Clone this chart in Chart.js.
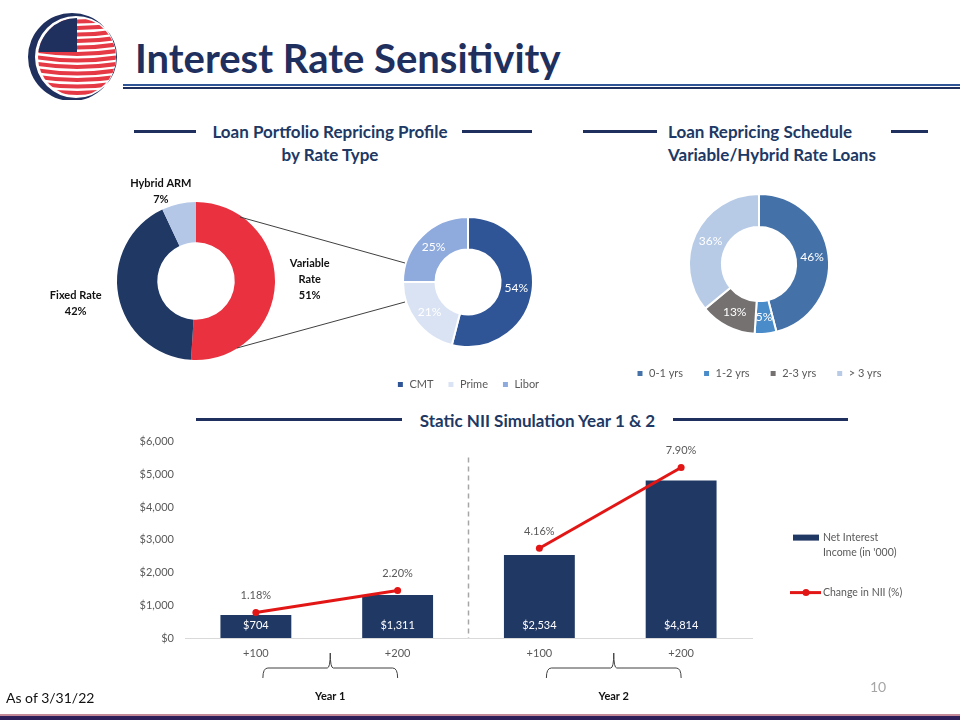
<!DOCTYPE html>
<html>
<head>
<meta charset="utf-8">
<script src="https://cdn.jsdelivr.net/npm/chart.js@4.4.1/dist/chart.umd.min.js"></script>
<style>
  body { margin: 0; width: 960px; height: 720px; position: relative; overflow: hidden; background: #fff; font-family: Lato, sans-serif; }
  .abs { position: absolute; }
  .title { left: 135px; top: 34px; font-size: 40px; font-weight: 700; color: #1F2F5E; line-height: 48px; white-space: nowrap; }
  .head { font-size: 17px; font-weight: 700; color: #203864; line-height: 23px; white-space: nowrap; }
  .rule { height: 3px; background: #1F2F5E; }
</style>
</head>
<body>

<canvas id="logo" class="abs" style="left:20px;top:10px" width="110" height="90"></canvas>
<div class="abs title">Interest Rate Sensitivity</div>
<div class="abs" style="left:123px;top:84px;width:837px;height:2px;background:#2F5597"></div>
<div class="abs" style="left:123px;top:87px;width:837px;height:2px;background:#1F2F5E"></div>

<!-- section headers -->
<div class="abs rule" style="left:134px;top:130px;width:62px"></div>
<div class="abs rule" style="left:462px;top:130px;width:70px"></div>
<div class="abs head" style="left:195px;top:120px;width:270px;text-align:center">Loan Portfolio Repricing Profile<br>by Rate Type</div>

<div class="abs rule" style="left:583px;top:130px;width:74px"></div>
<div class="abs rule" style="left:891px;top:130px;width:37px"></div>
<div class="abs head" style="left:668px;top:120px">Loan Repricing Schedule<br>Variable/Hybrid Rate Loans</div>

<div class="abs rule" style="left:196px;top:418px;width:206px"></div>
<div class="abs rule" style="left:673px;top:418px;width:175px"></div>
<div class="abs head" style="left:402px;top:409px;width:271px;text-align:center">Static NII Simulation Year 1 &amp; 2</div>

<!-- charts -->
<canvas id="rateTypeChart" class="abs" style="left:36px;top:171px" width="320" height="220"></canvas>
<canvas id="variableChart" class="abs" style="left:373px;top:198px" width="190" height="202"></canvas>
<canvas id="repricingChart" class="abs" style="left:599px;top:175px" width="320" height="214"></canvas>
<canvas id="niiChart" class="abs" style="left:100px;top:424px" width="850" height="286"></canvas>

<!-- connector lines between the two left donuts -->
<svg class="abs" style="left:0;top:0" width="960" height="720">
  <line x1="240" y1="217" x2="405" y2="263" stroke="#404040" stroke-width="1"/>
  <line x1="237" y1="348" x2="405" y2="302" stroke="#404040" stroke-width="1"/>
</svg>

<div class="abs" style="left:870px;top:678px;font-size:14px;color:#A6A6A6">10</div>
<div class="abs" style="left:6px;top:689px;font-size:14px;color:#111">As of 3/31/22</div>
<div class="abs" style="left:0;top:714px;width:960px;height:2px;background:#C48A97"></div>
<div class="abs" style="left:0;top:716px;width:960px;height:4px;background:#2E1E5A"></div>

<script>
// Rate type split of the loan portfolio
const rateTypes = ['Variable Rate', 'Fixed Rate', 'Hybrid ARM'];
const rateTypeLines = [['Variable', 'Rate'], ['Fixed Rate'], ['Hybrid ARM']];
const rateTypeShare = [51, 42, 7];

// Variable rate loans by index
const variableIndex = ['CMT', 'Prime', 'Libor'];
const variableShare = [54, 21, 25];

// Repricing schedule (variable / hybrid)
const repricingBuckets = ['0-1 yrs', '1-2 yrs', '2-3 yrs', '> 3 yrs'];
const repricingShare = [46, 5, 13, 36];

// Static NII simulation
const shockLabels = ['+100', '+200', '+100', '+200'];
const niiValues = [704, 1311, 2534, 4814];
const niiChange = [1.18, 2.20, 4.16, 7.90];
const yearGroups = ['Year 1', 'Year 2'];
const yearMembers = [[0, 1], [2, 3]];
const seriesLines = [['Net Interest', "Income (in '000)"], ['Change in NII (%)']];

const FONT = 'Lato';
const NAVY = '#203864';
const RED = '#E31616';
const GREY = '#595959';

Chart.defaults.font.family = FONT;
Chart.defaults.animation = false;
Chart.defaults.plugins.tooltip.enabled = false;

const money = v => '$' + v.toLocaleString('en-US');

// logo (plain canvas, just decoration)
function drawLogo() {
  const g = document.getElementById('logo').getContext('2d');
  g.fillStyle = '#1F2F5E';
  g.beginPath();
  g.arc(52, 47, 44, 0, Math.PI * 2);
  g.arc(56, 47, 41, 0, Math.PI * 2, true);
  g.fill('evenodd');
  g.save();
  g.beginPath();
  g.arc(57, 47, 39, 0, Math.PI * 2);
  g.clip();
  g.fillStyle = '#fff';
  g.fillRect(0, 0, 110, 90);
  g.strokeStyle = '#E53A46';
  g.lineWidth = 4;
  for (let y = 10; y < 92; y += 6.5) {
    g.beginPath();
    g.moveTo(15, y - 2);
    g.quadraticCurveTo(57, y + 5, 100, y - 2);
    g.stroke();
  }
  g.fillStyle = '#1F2F5E';
  g.fillRect(15, 5, 42, 37);
  g.restore();
}
drawLogo();

// labels outside the left donut
const outsideLabels = {
  id: 'outsideLabels',
  afterDatasetsDraw(chart, args, opts) {
    const ctx = chart.ctx;
    ctx.save();
    ctx.font = 'bold 11px ' + FONT;
    ctx.fillStyle = '#111';
    ctx.textAlign = 'center';
    ctx.textBaseline = 'middle';
    chart.getDatasetMeta(0).data.forEach((arc, i) => {
      const p = arc.getProps(['x', 'y', 'startAngle', 'endAngle', 'outerRadius'], true);
      const mid = (p.startAngle + p.endAngle) / 2;
      const r = p.outerRadius * opts.reach[i];
      const cx = p.x + Math.cos(mid) * r + opts.nudge[i][0];
      const cy = p.y + Math.sin(mid) * r + opts.nudge[i][1];
      const lines = rateTypeLines[i].concat(rateTypeShare[i] + '%');
      lines.forEach((t, k) => ctx.fillText(t, cx, cy + (k - (lines.length - 1) / 2) * 16));
    });
    ctx.restore();
  }
};

// percent labels in the middle of the ring
const ringLabels = {
  id: 'ringLabels',
  afterDatasetsDraw(chart, args, opts) {
    const ctx = chart.ctx;
    const values = chart.data.datasets[0].data;
    ctx.save();
    ctx.font = opts.size + 'px ' + FONT;
    ctx.fillStyle = '#fff';
    ctx.textAlign = 'center';
    ctx.textBaseline = 'middle';
    chart.getDatasetMeta(0).data.forEach((arc, i) => {
      const p = arc.getProps(['x', 'y', 'startAngle', 'endAngle', 'innerRadius', 'outerRadius'], true);
      const mid = (p.startAngle + p.endAngle) / 2;
      const r = (p.innerRadius + p.outerRadius) / 2;
      ctx.fillText(values[i] + '%', p.x + Math.cos(mid) * r, p.y + Math.sin(mid) * r);
    });
    ctx.restore();
  }
};

new Chart(document.getElementById('rateTypeChart'), {
  type: 'doughnut',
  data: {
    labels: rateTypes,
    datasets: [{
      data: rateTypeShare,
      backgroundColor: ['#E9313F', '#1F3864', '#B4C7E7'],
      borderWidth: 0
    }]
  },
  options: {
    responsive: false,
    radius: 79,
    cutout: '49%',
    plugins: {
      legend: { display: false },
      outsideLabels: {
        reach: [1.44, 1.55, 1.17],
        nudge: [[0, -5], [0, 0], [-15, 1]]
      }
    }
  },
  plugins: [outsideLabels]
});

const donutLegend = (pad) => ({
  position: 'bottom',
  labels: { boxWidth: 7, boxHeight: 7, padding: pad, color: GREY, font: { size: 11 } }
});

new Chart(document.getElementById('variableChart'), {
  type: 'doughnut',
  data: {
    labels: variableIndex,
    datasets: [{
      data: variableShare,
      backgroundColor: ['#2F5597', '#DAE3F3', '#8FAADC'],
      borderColor: '#fff',
      borderWidth: 2
    }]
  },
  options: {
    responsive: false,
    radius: 65,
    cutout: '50%',
    layout: { padding: { top: 1 } },
    plugins: {
      legend: donutLegend(14),
      ringLabels: { size: 12 }
    }
  },
  plugins: [ringLabels]
});

new Chart(document.getElementById('repricingChart'), {
  type: 'doughnut',
  data: {
    labels: repricingBuckets,
    datasets: [{
      data: repricingShare,
      backgroundColor: ['#4472A8', '#4A8CC9', '#767171', '#B7CBE6'],
      borderColor: '#fff',
      borderWidth: 2
    }]
  },
  options: {
    responsive: false,
    radius: 70,
    cutout: '53%',
    layout: { padding: { top: 5 } },
    plugins: {
      legend: donutLegend(20),
      ringLabels: { size: 12 }
    }
  },
  plugins: [ringLabels]
});

// extras for the NII chart: value labels, separator, braces, legend
const niiExtras = {
  id: 'niiExtras',
  beforeDatasetsDraw(chart) {
    const { ctx, chartArea, scales: { x } } = chart;
    const sepX = (x.getPixelForValue(1) + x.getPixelForValue(2)) / 2;
    ctx.save();
    ctx.strokeStyle = '#A6A6A6';
    ctx.lineWidth = 1.5;
    ctx.setLineDash([5, 4]);
    ctx.beginPath();
    ctx.moveTo(sepX, chartArea.top + 16);
    ctx.lineTo(sepX, chartArea.bottom);
    ctx.stroke();
    ctx.restore();
  },
  afterDatasetsDraw(chart) {
    const { ctx } = chart;
    const bars = chart.getDatasetMeta(0).data;
    const pts = chart.getDatasetMeta(1).data;
    ctx.save();
    ctx.font = '11px ' + FONT;
    ctx.textAlign = 'center';
    ctx.textBaseline = 'middle';
    ctx.fillStyle = '#fff';
    bars.forEach((b, i) => ctx.fillText(money(niiValues[i]), b.x, b.base - 13));
    ctx.fillStyle = GREY;
    pts.forEach((p, i) => ctx.fillText(niiChange[i].toFixed(2) + '%', p.x, p.y - 17));
    ctx.restore();
  },
  afterDraw(chart) {
    const { ctx, chartArea, scales: { x } } = chart;
    ctx.save();
    // braces under each year
    ctx.strokeStyle = '#404040';
    ctx.lineWidth = 1;
    const yTop = chartArea.bottom + 30;
    yearMembers.forEach((m, gi) => {
      const x0 = x.getPixelForValue(m[0]) + 7;
      const x1 = x.getPixelForValue(m[m.length - 1]);
      const mid = (x0 + x1) / 2;
      ctx.beginPath();
      ctx.moveTo(x0, yTop + 10);
      ctx.quadraticCurveTo(x0, yTop, x0 + 5, yTop);
      ctx.lineTo(mid - 3, yTop);
      ctx.quadraticCurveTo(mid, yTop, mid, yTop - 15);
      ctx.quadraticCurveTo(mid, yTop, mid + 3, yTop);
      ctx.lineTo(x1 - 5, yTop);
      ctx.quadraticCurveTo(x1, yTop, x1, yTop + 10);
      ctx.stroke();
      ctx.font = 'bold 11px ' + FONT;
      ctx.fillStyle = '#111';
      ctx.textAlign = 'center';
      ctx.textBaseline = 'middle';
      ctx.fillText(yearGroups[gi], mid, chartArea.bottom + 58);
    });
    // legend on the right
    const lx = chartArea.right + 41;
    const ly = chartArea.top + 96;
    ctx.font = '10.5px ' + FONT;
    ctx.textAlign = 'left';
    ctx.textBaseline = 'middle';
    ctx.fillStyle = NAVY;
    ctx.fillRect(lx, ly - 3, 26, 6);
    ctx.fillStyle = GREY;
    seriesLines[0].forEach((t, k) => ctx.fillText(t, lx + 30, ly + k * 15));
    const ly2 = ly + 55;
    ctx.strokeStyle = RED;
    ctx.lineWidth = 3;
    ctx.beginPath();
    ctx.moveTo(lx - 3, ly2);
    ctx.lineTo(lx + 28, ly2);
    ctx.stroke();
    ctx.fillStyle = RED;
    ctx.beginPath();
    ctx.arc(lx + 13, ly2, 3.5, 0, Math.PI * 2);
    ctx.fill();
    ctx.fillStyle = GREY;
    seriesLines[1].forEach((t, k) => ctx.fillText(t, lx + 30, ly2 + k * 15));
    ctx.restore();
  }
};

new Chart(document.getElementById('niiChart'), {
  type: 'bar',
  data: {
    labels: shockLabels,
    datasets: [
      {
        type: 'bar',
        label: seriesLines[0].join(' '),
        data: niiValues,
        backgroundColor: NAVY,
        yAxisID: 'y',
        order: 1,
        categoryPercentage: 1,
        barPercentage: 0.5
      },
      {
        type: 'line',
        label: seriesLines[1].join(' '),
        data: niiChange,
        borderColor: RED,
        backgroundColor: RED,
        borderWidth: 3,
        pointRadius: 3.5,
        pointBackgroundColor: RED,
        pointBorderWidth: 0,
        yAxisID: 'y1',
        order: 0,
        segment: {
          // no line between the two years
          borderColor: c => c.p0DataIndex === 1 ? 'transparent' : RED
        }
      }
    ]
  },
  options: {
    responsive: false,
    layout: { padding: { top: 0, right: 198, bottom: 52, left: 0 } },
    plugins: { legend: { display: false } },
    scales: {
      x: {
        grid: { display: false, drawTicks: false },
        border: { display: true, color: '#D9D9D9', width: 1 },
        ticks: { color: GREY, font: { size: 11 }, padding: 9 },
        afterFit: s => { s.height = 20; }
      },
      y: {
        min: 0,
        max: 6000,
        grid: { display: false, drawTicks: false },
        border: { display: false },
        ticks: { stepSize: 1000, color: GREY, font: { size: 11 }, padding: 11, callback: v => money(v) },
        afterFit: s => { s.width = 85; }
      },
      y1: {
        display: false,
        min: 0,
        max: 9.1
      }
    }
  },
  plugins: [niiExtras]
});
</script>
</body>
</html>
